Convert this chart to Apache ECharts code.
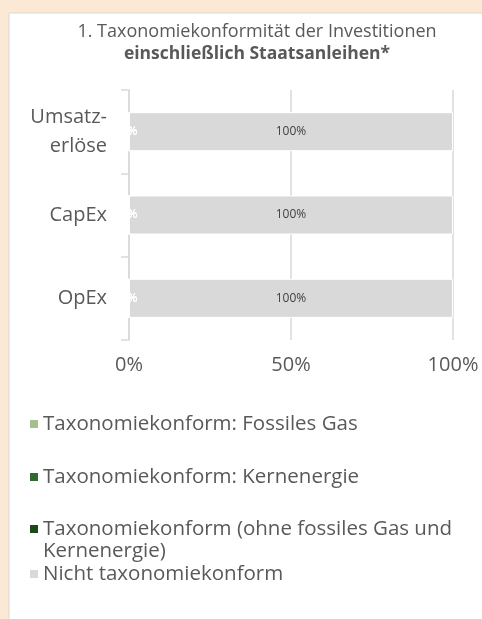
<!DOCTYPE html>
<html>
<head>
<meta charset="utf-8">
<script src="https://cdn.jsdelivr.net/npm/echarts@6/dist/echarts.min.js"></script>
<style>
  html, body { margin: 0; padding: 0; background: #fbe8d5; }
  #chart { width: 482px; height: 619px; }
</style>
</head>
<body>
<div id="chart"></div>
<script>
var titleLines = ['1. Taxonomiekonformität der Investitionen', 'einschließlich Staatsanleihen*'];
var categories = ['Umsatz-\nerlöse', 'CapEx', 'OpEx'];
var seriesNames = [
    'Taxonomiekonform: Fossiles Gas',
    'Taxonomiekonform: Kernenergie',
    'Taxonomiekonform (ohne fossiles Gas und\nKernenergie)',
    'Nicht taxonomiekonform'
];
var fossilGas = [0, 0, 0];
var nuclear = [0, 0, 0];
var aligned = [0, 0, 0];
var notAligned = [100, 100, 100];
var xTicks = [0, 50, 100];

var colors = ['#a6bf8e', '#2f6b2b', '#1c4a1a', '#d9d9d9'];
var textColor = '#595959';
var fontFamily = '"Open Sans", "Noto Sans", sans-serif';

var myChart = echarts.init(document.getElementById('chart'));

function barSeries(i, data) {
    var zero = data[0] === 0;
    return {
        name: seriesNames[i],
        type: 'bar',
        stack: 'total',
        data: data,
        barWidth: 39,
        itemStyle: { color: colors[i], borderColor: '#ffffff', borderWidth: 1 },
        label: {
            show: true,
            position: 'inside',
            formatter: '{c}%',
            color: zero ? '#ffffff' : '#404040',
            fontSize: 12,
            fontFamily: fontFamily
        }
    };
}

// two-line legend entry: square at the top of a tall icon box so it sits on the first line
function legendAt(i, top) {
    var twoLines = i === 2;
    return {
        data: [seriesNames[i]],
        left: 25,
        top: top,
        orient: 'vertical',
        icon: twoLines ? 'path://M0,0L10,0L10,10L0,10Z M0,37.5L10,37.5' : 'rect',
        itemWidth: 8,
        itemHeight: twoLines ? 30 : 8,
        itemGap: 6,
        selectedMode: false,
        itemStyle: { borderWidth: 0 },
        textStyle: {
            color: textColor,
            fontSize: 20.5,
            fontFamily: fontFamily,
            lineHeight: twoLines ? 22 : 24
        }
    };
}

var option = {
    backgroundColor: '#fbe8d5',
    animation: false,
    graphic: [{
        type: 'rect',
        shape: { x: 9, y: 13, width: 480, height: 620 },
        style: { fill: '#ffffff', stroke: '#d9d9d9', lineWidth: 1 },
        z: -10
    }, {
        type: 'text',
        x: 257,
        y: 32,
        style: {
            text: titleLines[0], fill: textColor, align: 'center', verticalAlign: 'middle',
            font: 'normal 18px ' + fontFamily
        }
    }, {
        type: 'text',
        x: 257,
        y: 54,
        style: {
            text: titleLines[1], fill: textColor, align: 'center', verticalAlign: 'middle',
            font: 'bold 17.5px ' + fontFamily
        }
    }],
    legend: [
        legendAt(0, 407),
        legendAt(1, 460),
        legendAt(2, 513),
        legendAt(3, 557)
    ],
    grid: { left: 129, right: 29, top: 90, bottom: 279, containLabel: false },
    xAxis: {
        type: 'value',
        min: xTicks[0],
        max: xTicks[xTicks.length - 1],
        interval: 50,
        axisLine: { show: false },
        axisTick: { show: false },
        axisLabel: { formatter: '{value}%', color: textColor, fontSize: 20, fontFamily: fontFamily, margin: 15 },
        splitLine: { show: true, lineStyle: { color: '#d9d9d9', width: 1.5 } }
    },
    yAxis: {
        type: 'category',
        data: categories,
        inverse: true,
        axisLine: { show: true, lineStyle: { color: '#d9d9d9', width: 1.5 } },
        axisTick: { show: true, length: 8, lineStyle: { color: '#d9d9d9', width: 1.5 } },
        axisLabel: { color: textColor, fontSize: 20, fontFamily: fontFamily, margin: 22, lineHeight: 29 }
    },
    series: [
        barSeries(0, fossilGas),
        barSeries(1, nuclear),
        barSeries(2, aligned),
        barSeries(3, notAligned)
    ]
};

myChart.setOption(option);
</script>
</body>
</html>
